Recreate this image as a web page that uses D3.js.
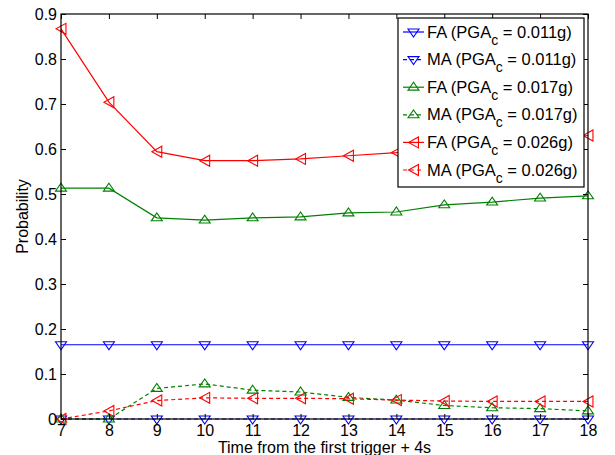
<!DOCTYPE html>
<html>
<head>
<meta charset="utf-8">
<script src="https://cdn.jsdelivr.net/npm/d3@7"></script>
<style>
  body { margin: 0; background: #fff; }
  svg { display: block; font-family: "Liberation Sans", Arial, sans-serif; }
</style>
</head>
<body>
<svg id="chart" width="615" height="455"></svg>
<script>
'use strict';

// x values: time from the first trigger + 4s
const times = [7, 8, 9, 10, 11, 12, 13, 14, 15, 16, 17, 18];
const yTicks = [0, 0.1, 0.2, 0.3, 0.4, 0.5, 0.6, 0.7, 0.8, 0.9];

const fa011 = [0.165, 0.165, 0.165, 0.165, 0.165, 0.165, 0.165, 0.165, 0.165, 0.165, 0.165, 0.165];
const ma011 = [0, 0, 0, 0, 0, 0, 0, 0, 0, 0, 0, 0];
const fa017 = [0.513, 0.513, 0.447, 0.442, 0.447, 0.449, 0.458, 0.460, 0.476, 0.482, 0.491, 0.496];
const ma017 = [0, 0, 0.068, 0.078, 0.064, 0.060, 0.048, 0.042, 0.030, 0.025, 0.023, 0.018];
const fa026 = [0.867, 0.704, 0.594, 0.574, 0.574, 0.578, 0.585, 0.592, 0.602, 0.612, 0.621, 0.630];
const ma026 = [0, 0.018, 0.041, 0.047, 0.046, 0.046, 0.045, 0.042, 0.040, 0.039, 0.039, 0.039];

const series = [
  { kind: 'FA', pga: '0.011', values: fa011, color: '#0000ff', marker: 'down', dash: null },
  { kind: 'MA', pga: '0.011', values: ma011, color: '#0000ff', marker: 'down', dash: '4,3' },
  { kind: 'FA', pga: '0.017', values: fa017, color: '#008000', marker: 'up', dash: null },
  { kind: 'MA', pga: '0.017', values: ma017, color: '#008000', marker: 'up', dash: '4,3' },
  { kind: 'FA', pga: '0.026', values: fa026, color: '#ff0000', marker: 'left', dash: null },
  { kind: 'MA', pga: '0.026', values: ma026, color: '#ff0000', marker: 'left', dash: '4,3' },
];

const margin = { top: 14, right: 27, bottom: 36, left: 61 };
const width = 615 - margin.left - margin.right;
const height = 455 - margin.top - margin.bottom;

const svg = d3.select('#chart');
const g = svg.append('g').attr('transform', `translate(${margin.left},${margin.top})`);

const x = d3.scaleLinear().domain([7, 18]).range([0, width]);
const y = d3.scaleLinear().domain([0, 0.9]).range([height, 0]);

// triangle marker paths, radius r
function markerPath(type, r) {
  const h = r * 0.9;
  if (type === 'down') return `M${-r},${-h * 0.6}L${r},${-h * 0.6}L0,${h}Z`;
  if (type === 'up') return `M${-r},${h * 0.6}L${r},${h * 0.6}L0,${-h}Z`;
  return `M${h},${-r}L${h},${r}L${-h * 0.6 - 2},0Z`;
}

// series lines
const line = d3.line().x((d, i) => x(times[i])).y((d) => y(d));

series.forEach((s) => {
  g.append('path')
    .datum(s.values)
    .attr('fill', 'none')
    .attr('stroke', s.color)
    .attr('stroke-width', 1.2)
    .attr('stroke-dasharray', s.dash)
    .attr('d', line);

  g.selectAll(null)
    .data(s.values)
    .enter().append('path')
    .attr('transform', (d, i) => `translate(${x(times[i])},${y(d)})`)
    .attr('d', markerPath(s.marker, 5.5))
    .attr('fill', 'none')
    .attr('stroke', s.color)
    .attr('stroke-width', 1.1);
});

// axes box with inward ticks on all four sides
const tickLen = 5;
const axisStyle = (sel) => {
  sel.select('.domain').remove();
  sel.selectAll('.tick line').attr('stroke', '#000');
  sel.selectAll('.tick text').attr('fill', '#000').style('font-size', '16px');
};

g.append('g')
  .attr('transform', `translate(0,${height})`)
  .call(d3.axisBottom(x).tickValues(times).tickSize(-tickLen).tickPadding(6).tickFormat(d3.format('d')))
  .call(axisStyle);

g.append('g')
  .call(d3.axisTop(x).tickValues(times).tickSize(-tickLen).tickFormat(''))
  .call(axisStyle);

g.append('g')
  .call(d3.axisLeft(y).tickValues(yTicks).tickSize(-tickLen).tickPadding(4)
    .tickFormat((d) => d === 0 ? '0' : d3.format('.1f')(d)))
  .call(axisStyle);

g.append('g')
  .attr('transform', `translate(${width},0)`)
  .call(d3.axisRight(y).tickValues(yTicks).tickSize(-tickLen).tickFormat(''))
  .call(axisStyle);

g.append('rect')
  .attr('width', width)
  .attr('height', height)
  .attr('fill', 'none')
  .attr('stroke', '#000')
  .attr('stroke-width', 1.2);

// axis labels
svg.append('text')
  .attr('x', margin.left + width / 2)
  .attr('y', 453)
  .attr('text-anchor', 'middle')
  .style('font-size', '16px')
  .text('Time from the first trigger + 4s');

svg.append('text')
  .attr('transform', `translate(28,${margin.top + height / 2}) rotate(-90)`)
  .attr('text-anchor', 'middle')
  .style('font-size', '16px')
  .text('Probability');

// legend
const legend = svg.append('g').attr('transform', 'translate(398,18)');
legend.append('rect')
  .attr('width', 186)
  .attr('height', 169)
  .attr('fill', '#fff')
  .attr('stroke', '#000')
  .attr('stroke-width', 1.2);

series.forEach((s, i) => {
  const row = legend.append('g').attr('transform', `translate(0,${14 + i * 27.6})`);
  row.append('line')
    .attr('x1', 5).attr('x2', 26)
    .attr('stroke', s.color)
    .attr('stroke-width', 1.2)
    .attr('stroke-dasharray', s.dash);
  row.append('path')
    .attr('transform', 'translate(15.5,0)')
    .attr('d', markerPath(s.marker, 5.5))
    .attr('fill', 'none')
    .attr('stroke', s.color)
    .attr('stroke-width', 1.1);
  const t = row.append('text')
    .attr('x', 29)
    .attr('y', 5.5)
    .style('font-size', '16.5px');
  t.append('tspan').text(`${s.kind} (PGA`);
  t.append('tspan').attr('dy', 7).style('font-size', '14px').text('c');
  t.append('tspan').attr('dy', -7).text(` = ${s.pga}g)`);
});
</script>
</body>
</html>
